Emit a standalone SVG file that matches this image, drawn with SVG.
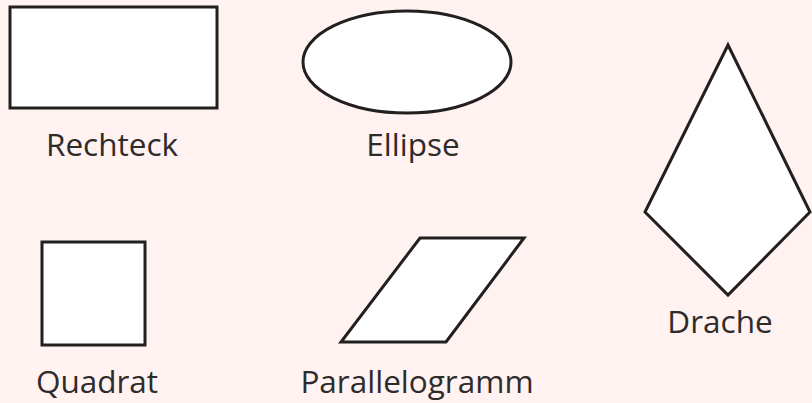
<svg xmlns="http://www.w3.org/2000/svg" width="812" height="403" viewBox="0 0 812 403">
<style>
.shape{fill:#ffffff;stroke:#221f1f;stroke-width:3;stroke-linejoin:miter}
.lbl{font-family:"Open Sans","DejaVu Sans",sans-serif;font-size:31.5px;fill:#2e2b2b;text-anchor:middle}
</style>
<rect x="0" y="0" width="812" height="403" fill="#fff2f1"/>
<g id="rechteck">
<rect class="shape" x="10" y="7" width="207" height="101"/>
<text class="lbl" x="112" y="156">Rechteck</text>
</g>
<g id="ellipse">
<ellipse class="shape" cx="407" cy="62" rx="104" ry="51"/>
<text class="lbl" x="413" y="156">Ellipse</text>
</g>
<g id="drache">
<polygon class="shape" points="728,45 810,212 728,295 645,212" stroke-linejoin="round"/>
<text class="lbl" x="720" y="333">Drache</text>
</g>
<g id="quadrat">
<rect class="shape" x="42" y="242" width="103" height="103"/>
<text class="lbl" x="97" y="393">Quadrat</text>
</g>
<g id="parallelogramm">
<polygon class="shape" points="420,238 524,238 446,342 341,342"/>
<text class="lbl" x="417" y="393">Parallelogramm</text>
</g>
<g id="connectors"/>
</svg>
